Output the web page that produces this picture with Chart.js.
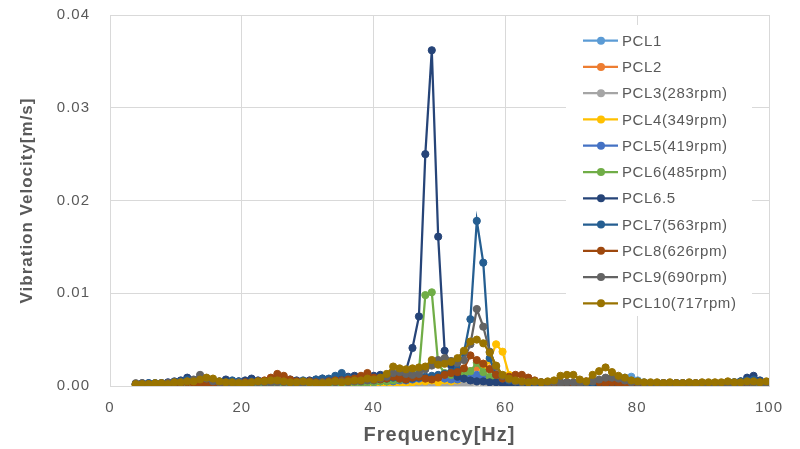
<!DOCTYPE html>
<html>
<head>
<meta charset="utf-8">
<script src="https://cdn.jsdelivr.net/npm/chart.js@4.4.1/dist/chart.umd.min.js"></script>
<style>
html,body{margin:0;padding:0;background:#fff;}
#wrap{width:800px;height:449px;}
</style>
</head>
<body>
<div id="wrap"><canvas id="c" width="800" height="449"></canvas></div>
<script>
const freq = [
3.91,4.88,5.86,6.84,7.81,8.79,9.77,10.74,11.72,12.70,
13.67,14.65,15.63,16.60,17.58,18.55,19.53,20.51,21.48,22.46,
23.44,24.41,25.39,26.37,27.34,28.32,29.30,30.27,31.25,32.23,
33.20,34.18,35.16,36.13,37.11,38.09,39.06,40.04,41.02,41.99,
42.97,43.95,44.92,45.90,46.88,47.85,48.83,49.80,50.78,51.76,
52.73,53.71,54.69,55.66,56.64,57.62,58.59,59.57,60.55,61.52,
62.50,63.48,64.45,65.43,66.41,67.38,68.36,69.34,70.31,71.29,
72.27,73.24,74.22,75.20,76.17,77.15,78.13,79.10,80.08,81.05,
82.03,83.01,83.98,84.96,85.94,86.91,87.89,88.87,89.84,90.82,
91.80,92.77,93.75,94.73,95.70,96.68,97.66,98.63,99.61];

const seriesNames = ['PCL1','PCL2','PCL3(283rpm)','PCL4(349rpm)','PCL5(419rpm)','PCL6(485rpm)','PCL6.5','PCL7(563rpm)','PCL8(626rpm)','PCL9(690rpm)','PCL10(717rpm)'];
const seriesColors = ['#5B9BD5','#ED7D31','#A5A5A5','#FFC000','#4472C4','#70AD47','#264478','#255E91','#9E480E','#636363','#997300'];

const pcl1 = [
0.0002,0.0002,0.0002,0.0003,0.0002,0.0003,0.0003,0.0003,0.0004,0.0003,
0.0003,0.0003,0.0003,0.0002,0.0003,0.0003,0.0002,0.0003,0.0003,0.0003,
0.0003,0.0003,0.0003,0.0003,0.0002,0.0003,0.0003,0.0003,0.0003,0.0003,
0.0003,0.0004,0.0004,0.0003,0.0004,0.0004,0.0004,0.0004,0.0005,0.0004,
0.0005,0.0005,0.0005,0.0006,0.0006,0.0007,0.0006,0.0007,0.0006,0.0006,
0.0007,0.0008,0.0009,0.0010,0.0008,0.0006,0.0005,0.0004,0.0004,0.0003,
0.0003,0.0003,0.0003,0.0003,0.0003,0.0003,0.0003,0.0003,0.0003,0.0003,
0.0003,0.0004,0.0004,0.0005,0.0005,0.0006,0.0009,0.0010,0.0006,0.0004,
0.0003,0.0003,0.0003,0.0003,0.0003,0.0003,0.0003,0.0003,0.0003,0.0003,
0.0003,0.0003,0.0003,0.0003,0.0003,0.0003,0.0003,0.0003,0.0003];

const pcl2 = [
0.0001,0.0002,0.0002,0.0001,0.0002,0.0002,0.0002,0.0002,0.0002,0.0003,
0.0002,0.0002,0.0002,0.0003,0.0002,0.0002,0.0002,0.0002,0.0003,0.0002,
0.0002,0.0003,0.0002,0.0002,0.0002,0.0003,0.0002,0.0002,0.0002,0.0002,
0.0002,0.0003,0.0003,0.0002,0.0003,0.0003,0.0003,0.0004,0.0004,0.0005,
0.0006,0.0007,0.0006,0.0007,0.0008,0.0007,0.0009,0.0010,0.0009,0.0011,
0.0012,0.0014,0.0016,0.0020,0.0024,0.0019,0.0014,0.0009,0.0007,0.0005,
0.0004,0.0003,0.0003,0.0002,0.0002,0.0002,0.0002,0.0003,0.0002,0.0002,
0.0002,0.0002,0.0003,0.0003,0.0003,0.0002,0.0002,0.0002,0.0002,0.0002,
0.0002,0.0002,0.0002,0.0002,0.0002,0.0002,0.0002,0.0002,0.0002,0.0002,
0.0002,0.0002,0.0002,0.0002,0.0002,0.0002,0.0002,0.0002,0.0002];

const pcl3 = [
0.0001,0.0001,0.0001,0.0001,0.0001,0.0001,0.0001,0.0001,0.0001,0.0001,
0.0001,0.0001,0.0001,0.0001,0.0001,0.0001,0.0001,0.0001,0.0001,0.0001,
0.0001,0.0001,0.0001,0.0001,0.0001,0.0001,0.0001,0.0001,0.0001,0.0001,
0.0001,0.0001,0.0001,0.0001,0.0001,0.0001,0.0001,0.0001,0.0001,0.0002,
0.0002,0.0002,0.0002,0.0002,0.0002,0.0003,0.0003,0.0002,0.0002,0.0002,
0.0002,0.0003,0.0003,0.0004,0.0003,0.0002,0.0002,0.0002,0.0001,0.0001,
0.0001,0.0001,0.0001,0.0001,0.0001,0.0001,0.0001,0.0001,0.0001,0.0001,
0.0001,0.0001,0.0001,0.0001,0.0001,0.0001,0.0001,0.0001,0.0001,0.0001,
0.0001,0.0001,0.0001,0.0001,0.0001,0.0001,0.0001,0.0001,0.0001,0.0001,
0.0001,0.0001,0.0001,0.0001,0.0001,0.0001,0.0001,0.0001,0.0001];

const pcl4 = [
0.0001,0.0001,0.0001,0.0001,0.0001,0.0001,0.0001,0.0002,0.0001,0.0001,
0.0001,0.0001,0.0001,0.0002,0.0001,0.0001,0.0001,0.0001,0.0001,0.0001,
0.0001,0.0002,0.0001,0.0001,0.0001,0.0001,0.0001,0.0001,0.0002,0.0001,
0.0001,0.0001,0.0001,0.0002,0.0001,0.0002,0.0002,0.0002,0.0002,0.0003,
0.0003,0.0003,0.0003,0.0004,0.0005,0.0005,0.0006,0.0004,0.0006,0.0005,
0.0006,0.0008,0.0009,0.0010,0.0017,0.0028,0.0045,0.0037,0.0012,0.0006,
0.0004,0.0003,0.0002,0.0002,0.0002,0.0001,0.0002,0.0001,0.0001,0.0002,
0.0001,0.0001,0.0002,0.0001,0.0002,0.0001,0.0001,0.0002,0.0001,0.0001,
0.0001,0.0001,0.0001,0.0001,0.0001,0.0001,0.0001,0.0001,0.0001,0.0001,
0.0001,0.0001,0.0001,0.0001,0.0001,0.0001,0.0001,0.0001,0.0001];

const pcl5 = [
0.0002,0.0002,0.0002,0.0002,0.0003,0.0002,0.0003,0.0003,0.0003,0.0004,
0.0003,0.0003,0.0002,0.0003,0.0003,0.0002,0.0003,0.0003,0.0002,0.0003,
0.0003,0.0003,0.0002,0.0003,0.0003,0.0003,0.0002,0.0003,0.0003,0.0003,
0.0003,0.0004,0.0003,0.0004,0.0004,0.0003,0.0004,0.0004,0.0005,0.0005,
0.0005,0.0006,0.0006,0.0007,0.0008,0.0009,0.0008,0.0010,0.0008,0.0007,
0.0007,0.0008,0.0010,0.0012,0.0009,0.0007,0.0005,0.0004,0.0003,0.0003,
0.0003,0.0003,0.0002,0.0003,0.0002,0.0003,0.0002,0.0003,0.0003,0.0002,
0.0003,0.0003,0.0003,0.0004,0.0004,0.0003,0.0003,0.0003,0.0002,0.0003,
0.0002,0.0002,0.0002,0.0002,0.0003,0.0002,0.0002,0.0002,0.0002,0.0002,
0.0002,0.0002,0.0003,0.0002,0.0003,0.0003,0.0003,0.0002,0.0002];

const pcl6 = [
0.0001,0.0001,0.0002,0.0001,0.0002,0.0002,0.0002,0.0003,0.0002,0.0002,
0.0002,0.0003,0.0002,0.0002,0.0002,0.0002,0.0002,0.0003,0.0002,0.0002,
0.0002,0.0002,0.0003,0.0002,0.0002,0.0003,0.0002,0.0002,0.0002,0.0003,
0.0003,0.0002,0.0003,0.0003,0.0004,0.0003,0.0004,0.0004,0.0005,0.0005,
0.0006,0.0007,0.0008,0.0011,0.0016,0.0098,0.0101,0.0024,0.0014,0.0012,
0.0011,0.0013,0.0016,0.0025,0.0015,0.0010,0.0007,0.0005,0.0004,0.0003,
0.0003,0.0002,0.0002,0.0003,0.0002,0.0002,0.0002,0.0003,0.0002,0.0002,
0.0002,0.0002,0.0003,0.0003,0.0003,0.0002,0.0002,0.0003,0.0002,0.0002,
0.0002,0.0002,0.0002,0.0002,0.0002,0.0002,0.0002,0.0002,0.0002,0.0002,
0.0002,0.0002,0.0002,0.0002,0.0002,0.0002,0.0002,0.0002,0.0002];

const pcl6_5 = [
0.0002,0.0003,0.0003,0.0002,0.0003,0.0004,0.0005,0.0006,0.0009,0.0006,
0.0004,0.0005,0.0004,0.0005,0.0007,0.0004,0.0005,0.0006,0.0008,0.0006,
0.0005,0.0006,0.0005,0.0006,0.0007,0.0006,0.0005,0.0006,0.0007,0.0008,
0.0007,0.0008,0.0009,0.0010,0.0011,0.0009,0.0010,0.0011,0.0012,0.0010,
0.0011,0.0012,0.0017,0.0041,0.0075,0.0250,0.0362,0.0161,0.0038,0.0022,
0.0010,0.0008,0.0006,0.0005,0.0005,0.0004,0.0004,0.0003,0.0003,0.0003,
0.0003,0.0002,0.0003,0.0002,0.0002,0.0003,0.0002,0.0002,0.0003,0.0002,
0.0002,0.0003,0.0003,0.0004,0.0003,0.0003,0.0002,0.0002,0.0002,0.0002,
0.0002,0.0002,0.0003,0.0002,0.0002,0.0002,0.0003,0.0002,0.0003,0.0003,
0.0003,0.0003,0.0003,0.0004,0.0005,0.0009,0.0011,0.0006,0.0003];

const pcl7 = [
0.0002,0.0002,0.0003,0.0003,0.0002,0.0003,0.0004,0.0005,0.0007,0.0006,
0.0005,0.0006,0.0005,0.0004,0.0004,0.0006,0.0005,0.0004,0.0005,0.0005,
0.0004,0.0005,0.0006,0.0005,0.0004,0.0005,0.0006,0.0005,0.0007,0.0008,
0.0008,0.0011,0.0014,0.0009,0.0008,0.0008,0.0007,0.0008,0.0009,0.0008,
0.0009,0.0008,0.0007,0.0008,0.0009,0.0010,0.0011,0.0012,0.0013,0.0015,
0.0018,0.0036,0.0072,0.0178,0.0133,0.0030,0.0012,0.0008,0.0006,0.0005,
0.0004,0.0004,0.0003,0.0004,0.0003,0.0003,0.0004,0.0004,0.0003,0.0004,
0.0003,0.0004,0.0004,0.0005,0.0004,0.0004,0.0005,0.0005,0.0004,0.0003,
0.0003,0.0003,0.0003,0.0002,0.0003,0.0003,0.0003,0.0002,0.0003,0.0003,
0.0003,0.0003,0.0004,0.0004,0.0005,0.0006,0.0007,0.0005,0.0004];

const pcl8 = [
0.0002,0.0002,0.0002,0.0002,0.0002,0.0003,0.0003,0.0003,0.0004,0.0003,
0.0003,0.0002,0.0002,0.0002,0.0003,0.0003,0.0003,0.0004,0.0004,0.0005,
0.0006,0.0009,0.0013,0.0011,0.0007,0.0005,0.0004,0.0005,0.0004,0.0004,
0.0005,0.0006,0.0006,0.0007,0.0008,0.0011,0.0014,0.0009,0.0007,0.0008,
0.0010,0.0008,0.0007,0.0009,0.0010,0.0008,0.0007,0.0009,0.0012,0.0014,
0.0015,0.0019,0.0033,0.0028,0.0024,0.0018,0.0012,0.0008,0.0010,0.0012,
0.0012,0.0009,0.0006,0.0004,0.0004,0.0003,0.0003,0.0004,0.0003,0.0003,
0.0005,0.0006,0.0004,0.0003,0.0004,0.0003,0.0003,0.0003,0.0003,0.0003,
0.0003,0.0003,0.0003,0.0003,0.0003,0.0003,0.0003,0.0003,0.0003,0.0003,
0.0003,0.0003,0.0003,0.0003,0.0003,0.0003,0.0004,0.0004,0.0004];

const pcl9 = [
0.0003,0.0003,0.0002,0.0002,0.0003,0.0003,0.0004,0.0004,0.0005,0.0007,
0.0012,0.0008,0.0005,0.0004,0.0003,0.0003,0.0004,0.0003,0.0003,0.0004,
0.0004,0.0003,0.0004,0.0004,0.0003,0.0003,0.0003,0.0004,0.0003,0.0004,
0.0004,0.0004,0.0005,0.0004,0.0005,0.0005,0.0006,0.0006,0.0008,0.0010,
0.0014,0.0015,0.0013,0.0012,0.0013,0.0018,0.0022,0.0028,0.0030,0.0027,
0.0025,0.0028,0.0045,0.0083,0.0064,0.0037,0.0021,0.0011,0.0007,0.0005,
0.0004,0.0004,0.0004,0.0004,0.0003,0.0004,0.0003,0.0004,0.0004,0.0003,
0.0004,0.0005,0.0007,0.0009,0.0009,0.0008,0.0006,0.0004,0.0004,0.0003,
0.0003,0.0003,0.0003,0.0003,0.0003,0.0003,0.0003,0.0003,0.0003,0.0003,
0.0003,0.0003,0.0003,0.0003,0.0003,0.0004,0.0004,0.0003,0.0003];

const pcl10 = [
0.0002,0.0002,0.0002,0.0003,0.0003,0.0002,0.0004,0.0004,0.0005,0.0005,
0.0007,0.0009,0.0008,0.0005,0.0004,0.0004,0.0003,0.0003,0.0004,0.0005,
0.0005,0.0006,0.0006,0.0005,0.0004,0.0004,0.0005,0.0004,0.0003,0.0003,
0.0004,0.0005,0.0004,0.0005,0.0006,0.0006,0.0008,0.0007,0.0009,0.0013,
0.0021,0.0019,0.0018,0.0019,0.0020,0.0021,0.0028,0.0023,0.0024,0.0026,
0.0030,0.0038,0.0048,0.0050,0.0046,0.0036,0.0022,0.0012,0.0008,0.0006,
0.0005,0.0004,0.0005,0.0004,0.0005,0.0006,0.0011,0.0012,0.0012,0.0007,
0.0005,0.0012,0.0016,0.0020,0.0015,0.0011,0.0009,0.0006,0.0005,0.0004,
0.0004,0.0004,0.0003,0.0004,0.0003,0.0003,0.0004,0.0003,0.0004,0.0004,
0.0004,0.0004,0.0005,0.0004,0.0004,0.0005,0.0005,0.0004,0.0005];

const seriesValues = [pcl1, pcl2, pcl3, pcl4, pcl5, pcl6, pcl6_5, pcl7, pcl8, pcl9, pcl10];

const yTicks = [0, 0.01, 0.02, 0.03, 0.04];
const xTicks = [0, 20, 40, 60, 80, 100];

const TEXT = '#595959';
const GRID = '#d9d9d9';
const FONT = '"Liberation Sans", Arial, sans-serif';

const datasets = seriesNames.map((name, i) => ({
  label: name,
  data: freq.map((f, j) => ({x: f, y: seriesValues[i][j]})),
  borderColor: seriesColors[i],
  backgroundColor: seriesColors[i],
  pointBackgroundColor: seriesColors[i],
  pointBorderColor: seriesColors[i],
  borderWidth: 2.25,
  pointRadius: 3.6,
  pointBorderWidth: 1,
  tension: 0,
  order: seriesNames.length - 1 - i
}));

const spacingPlugin = {
  id: 'spacing',
  beforeDraw(chart) { chart.ctx.letterSpacing = '1px'; },
  afterDraw(chart) { chart.ctx.letterSpacing = '0px'; }
};

const boxLegend = {
  id: 'boxLegend',
  beforeDatasetsDraw(chart) {
    const ctx = chart.ctx;
    const ds = chart.data.datasets;
    ctx.save();
    ctx.letterSpacing = '0.6px';
    ctx.fillStyle = '#ffffff';
    ctx.fillRect(566, 25, 186, 291);
    ctx.font = '15px ' + FONT;
    ctx.textBaseline = 'middle';
    ctx.textAlign = 'left';
    const y0 = 40.7, dy = 26.26;
    ds.forEach((d, i) => {
      const y = y0 + i * dy;
      ctx.strokeStyle = d.borderColor;
      ctx.lineWidth = 2.25;
      ctx.beginPath();
      ctx.moveTo(583, y);
      ctx.lineTo(618, y);
      ctx.stroke();
      ctx.fillStyle = d.borderColor;
      ctx.beginPath();
      ctx.arc(601, y, 4, 0, Math.PI * 2);
      ctx.fill();
      ctx.fillStyle = TEXT;
      ctx.fillText(d.label, 622, y + 1);
    });
    ctx.restore();
  }
};

new Chart(document.getElementById('c'), {
  type: 'line',
  data: { datasets },
  plugins: [spacingPlugin, boxLegend],
  options: {
    responsive: false,
    animation: false,
    devicePixelRatio: 1,
    layout: { padding: { left: 0, right: 31, top: 15, bottom: 0 } },
    plugins: { legend: { display: false }, tooltip: { enabled: false } },
    scales: {
      x: {
        type: 'linear',
        min: 0, max: 100,
        afterBuildTicks(scale) { scale.ticks = xTicks.map(v => ({value: v})); },
        afterFit(scale) { scale.height = 63; scale.paddingLeft = 0; scale.paddingRight = 0; },
        grid: { color: GRID, lineWidth: 1, drawTicks: false },
        border: { color: GRID, width: 1 },
        ticks: { color: TEXT, font: { family: FONT, size: 15 }, padding: 13, maxRotation: 0 },
        title: { display: true, text: 'Frequency[Hz]', color: TEXT, font: { family: FONT, size: 20, weight: 'bold' }, padding: { top: 2, bottom: 2 } }
      },
      y: {
        type: 'linear',
        min: 0, max: 0.04,
        afterBuildTicks(scale) { scale.ticks = yTicks.map(v => ({value: v})); },
        afterFit(scale) { scale.width = 110; scale.paddingTop = 0; scale.paddingBottom = 0; },
        grid: { color: GRID, lineWidth: 1, drawTicks: false },
        border: { color: GRID, width: 1 },
        ticks: { color: TEXT, font: { family: FONT, size: 15 }, padding: 20, callback: v => v.toFixed(2) },
        title: { display: true, text: 'Vibration Velocity[m/s]', color: TEXT, font: { family: FONT, size: 17, weight: 'bold' }, padding: { top: 17, bottom: 17 } }
      }
    }
  }
});
</script>
</body>
</html>
